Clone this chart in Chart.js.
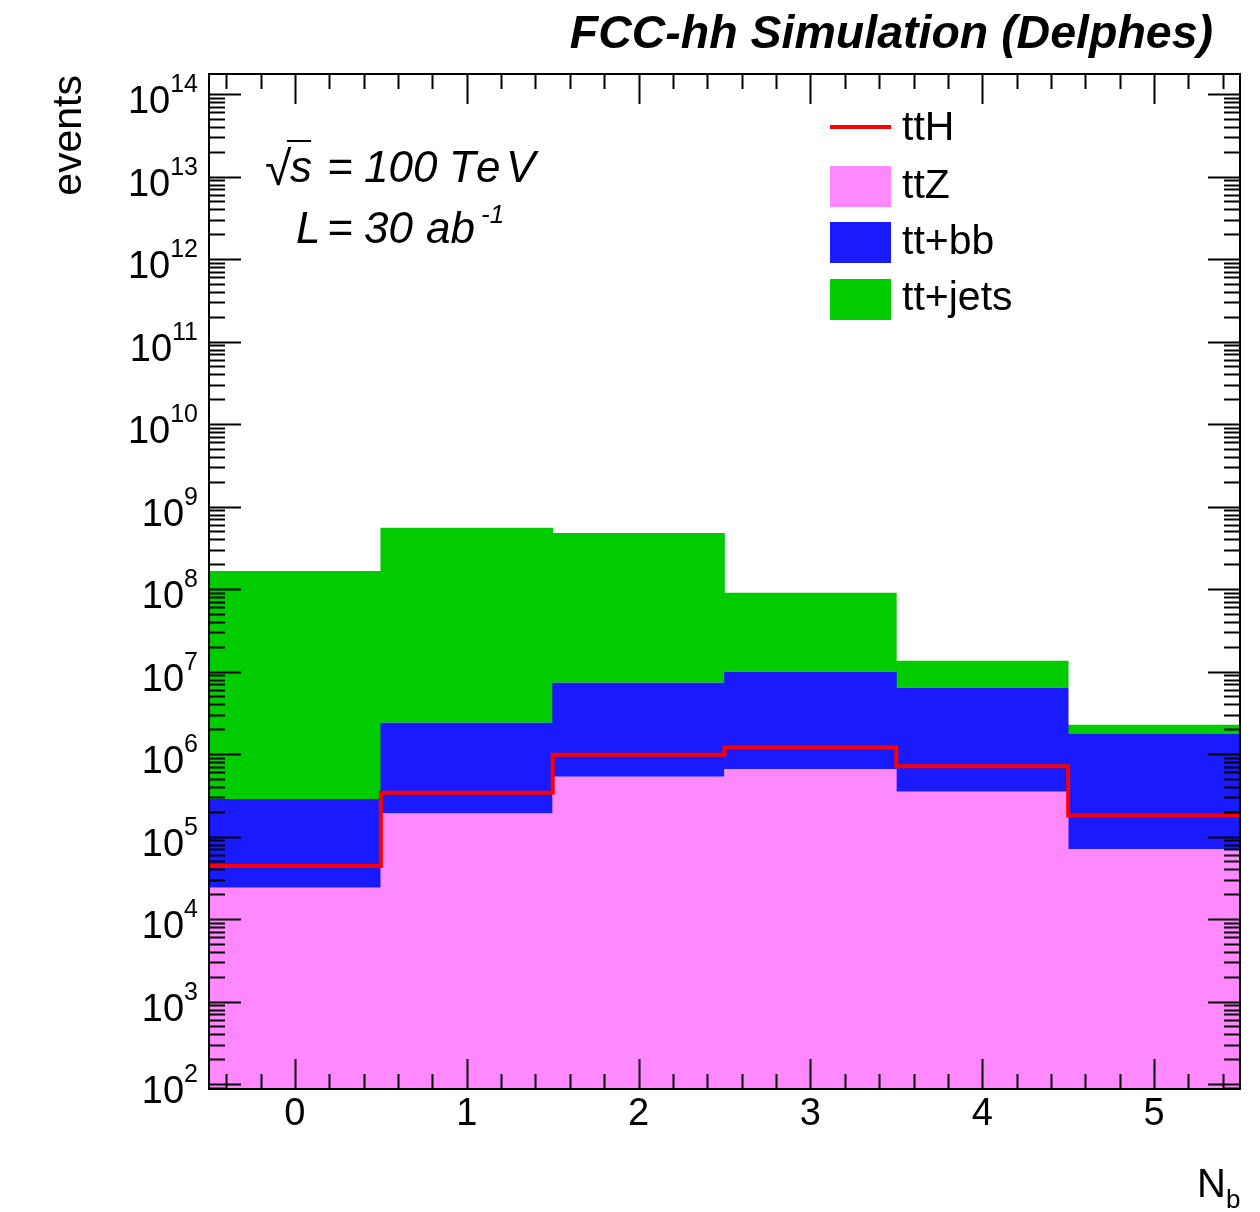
<!DOCTYPE html>
<html>
<head>
<meta charset="utf-8">
<script src="https://cdn.jsdelivr.net/npm/chart.js@4.4.0/dist/chart.umd.min.js"></script>
<style>
  body { margin: 0; background: #fff; }
  #wrap { width: 1260px; height: 1212px; position: relative; }
</style>
</head>
<body>
<div id="wrap"><canvas id="myChart"></canvas></div>
<script>
// number of b-jets (bin centres) and bin edges
var nb = [0, 1, 2, 3, 4, 5];
var edges = [-0.5, 0.5, 1.5, 2.5, 3.5, 4.5, 5.5];

// events per bin
var ttH = [4.4e4, 3.4e5, 9.8e5, 1.2e6, 7.1e5, 1.8e5];
var ttZ = [2.4e4, 1.9e5, 5.3e5, 6.6e5, 3.5e5, 7.0e4];
var ttbb = [2.6e5, 2.2e6, 6.8e6, 9.3e6, 6.0e6, 1.7e6];
var ttjets = [1.65e8, 5.5e8, 4.7e8, 8.0e7, 7.2e6, 5.0e5];

var yExps = [2, 3, 4, 5, 6, 7, 8, 9, 10, 11, 12, 13, 14];

var colors = {
    ttH: '#ff0000',
    ttZ: '#ff88ff',
    ttbb: '#1a1aff',
    ttjets: '#00cc00'
};

var FONT = '"Liberation Sans", Helvetica, Arial, sans-serif';

function points(vals) {
    var out = [];
    for (var i = 0; i < nb.length; i++) {
        out.push({x: nb[i], y: vals[i]});
    }
    return out;
}

function stepPoints(vals) {
    var out = [];
    for (var i = 0; i < edges.length; i++) {
        out.push({x: edges[i], y: vals[Math.min(i, vals.length - 1)]});
    }
    return out;
}

function line(ctx, x1, y1, x2, y2) {
    ctx.beginPath();
    ctx.moveTo(x1, y1);
    ctx.lineTo(x2, y2);
    ctx.stroke();
}

var decorations = {
    id: 'decorations',
    afterDraw: function (chart) {
        var ctx = chart.ctx;
        var a = chart.chartArea;
        var xs = chart.scales.x;
        var ys = chart.scales.y;
        ctx.save();
        ctx.strokeStyle = '#000';
        ctx.fillStyle = '#000';
        ctx.lineWidth = 2;

        // y ticks (log, inside on both sides)
        for (var e = yExps[0] - 1; e <= yExps[yExps.length - 1]; e++) {
            for (var m = 1; m <= 9; m++) {
                var v = m * Math.pow(10, e);
                if (v < ys.min || v > ys.max) continue;
                var py = Math.round(ys.getPixelForValue(v)) + 0.5;
                var len = m === 1 ? 32 : 16;
                line(ctx, a.left, py, a.left + len, py);
                line(ctx, a.right, py, a.right - len, py);
            }
        }
        // x ticks, minor every 0.2
        for (var k = -2; k <= 27; k++) {
            var t = k / 5;
            var px = Math.round(xs.getPixelForValue(t)) + 0.5;
            var l2 = (k % 5 === 0) ? 30 : 15;
            line(ctx, px, a.bottom, px, a.bottom - l2);
            line(ctx, px, a.top, px, a.top + l2);
        }
        // frame
        ctx.strokeRect(a.left, a.top, a.right - a.left, a.bottom - a.top);

        // y tick labels 10^n
        ctx.textBaseline = 'alphabetic';
        for (var i = 0; i < yExps.length; i++) {
            var ty = ys.getPixelForValue(Math.pow(10, yExps[i]));
            var ex = String(yExps[i]);
            ctx.font = '25px ' + FONT;
            var ew = ctx.measureText(ex).width;
            ctx.textAlign = 'left';
            ctx.fillText(ex, 198 - ew, ty - 2);
            ctx.font = '38px ' + FONT;
            ctx.textAlign = 'right';
            ctx.fillText('10', 198 - ew, ty + 19);
        }

        // x tick labels
        ctx.font = '38px ' + FONT;
        ctx.textAlign = 'center';
        for (var j = 0; j < nb.length; j++) {
            ctx.fillText(String(nb[j]), xs.getPixelForValue(nb[j]), 1125);
        }

        // axis titles
        ctx.textAlign = 'left';
        ctx.font = '40px ' + FONT;
        ctx.fillText('N', 1197, 1197);
        var nw = ctx.measureText('N').width;
        ctx.font = '26px ' + FONT;
        ctx.fillText('b', 1197 + nw, 1208);

        ctx.save();
        ctx.translate(81, 75);
        ctx.rotate(-Math.PI / 2);
        ctx.textAlign = 'right';
        ctx.font = '41px ' + FONT;
        ctx.fillText('events', 0, 0);
        ctx.restore();

        // header
        ctx.textAlign = 'right';
        ctx.font = 'italic bold 46.5px ' + FONT;
        ctx.fillText('FCC-hh Simulation (Delphes)', 1213, 48);

        // sqrt(s) and luminosity
        ctx.textAlign = 'left';
        ctx.font = '48px ' + FONT;
        ctx.fillText('\u221A', 265, 185);
        ctx.font = 'italic 44px ' + FONT;
        ctx.fillText('s', 290, 182);
        line(ctx, 287, 141, 311, 141);
        ctx.fillText('=', 327, 182);
        ctx.fillText('100', 364, 182);
        ctx.fillText('T', 449, 182);
        ctx.fillText('e', 476, 182);
        ctx.fillText('V', 506, 182);

        ctx.fillText('L', 296, 243);
        ctx.fillText('=', 327, 243);
        ctx.fillText('30', 364, 243);
        ctx.fillText('ab', 426, 243);
        ctx.font = 'italic 26px ' + FONT;
        ctx.fillText('-1', 481, 223);

        // legend
        ctx.font = '41px ' + FONT;
        ctx.lineWidth = 4;
        ctx.strokeStyle = colors.ttH;
        line(ctx, 830, 127, 891, 127);
        var boxes = [['ttZ', colors.ttZ, 166], ['tt+bb', colors.ttbb, 222], ['tt+jets', colors.ttjets, 279]];
        for (var b = 0; b < boxes.length; b++) {
            ctx.fillStyle = boxes[b][1];
            ctx.fillRect(830, boxes[b][2], 61, 41);
        }
        ctx.fillStyle = '#000';
        ctx.fillText('ttH', 902, 140);
        ctx.fillText('ttZ', 902, 198);
        ctx.fillText('tt+bb', 902, 254);
        ctx.fillText('tt+jets', 902, 310);

        ctx.restore();
    }
};

var ctx = document.getElementById('myChart');

var myChart = new Chart(ctx, {
    type: 'bar',
    data: {
        datasets: [{
                type: 'line',
                label: 'ttH',
                data: stepPoints(ttH),
                borderColor: colors.ttH,
                borderWidth: 4,
                pointRadius: 0,
                stepped: 'before',
                fill: false
            }, {
                label: 'ttZ',
                data: points(ttZ),
                backgroundColor: colors.ttZ,
                borderWidth: 0
            }, {
                label: 'tt+bb',
                data: points(ttbb),
                backgroundColor: colors.ttbb,
                borderWidth: 0
            }, {
                label: 'tt+jets',
                data: points(ttjets),
                backgroundColor: colors.ttjets,
                borderWidth: 0
            }]
    },
    options: {
        responsive: true,
        maintainAspectRatio: false,
        animation: false,
        layout: {
            padding: {left: 209, right: 20, top: 74, bottom: 123}
        },
        datasets: {
            bar: {barPercentage: 1.004, categoryPercentage: 1}
        },
        scales: {
            x: {
                type: 'linear', min: -0.5, max: 5.5, offset: false, stacked: true, display: false,
                ticks: {stepSize: 1, includeBounds: false}
            },
            y: {type: 'logarithmic', min: 87, max: 1.75e14, stacked: true, display: false}
        },
        plugins: {
            legend: {display: false},
            tooltip: {enabled: false}
        }
    },
    plugins: [decorations]
});
</script>
</body>
</html>
